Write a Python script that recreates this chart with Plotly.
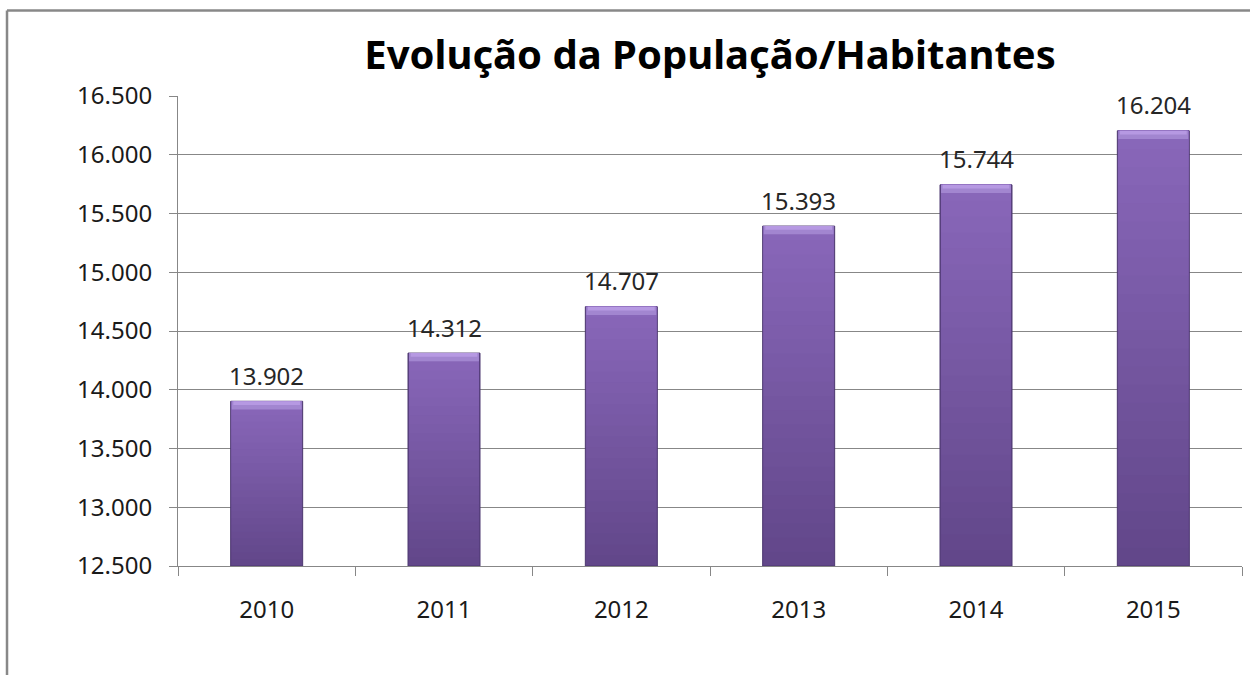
import plotly.graph_objects as go

# ---- data ----
years = ["2010", "2011", "2012", "2013", "2014", "2015"]
population = [13902, 14312, 14707, 15393, 15744, 16204]
y_ticks = [12500, 13000, 13500, 14000, 14500, 15000, 15500, 16000, 16500]
title_text = "Evolução da População/Habitantes"
axis_min, axis_max = 12500, 16500


def fmt(v):
    return f"{v:,}".replace(",", ".")


def lerp_color(c0, c1, t):
    a = [int(c0[i:i + 2], 16) for i in (1, 3, 5)]
    b = [int(c1[i:i + 2], 16) for i in (1, 3, 5)]
    return "rgb(%d,%d,%d)" % tuple(round(a[j] + (b[j] - a[j]) * t) for j in range(3))


FONT = "Noto Sans"
GRID = "#878787"
TICK_SIZE = 24
BAR_W = 0.406
DARK, LIGHT = "#62478a", "#8a68bb"
N_LAYERS = 24
BEVEL = 70  # height of the light top bevel, in axis units

fig = go.Figure()
# main bar (dark base, outline, hover)
fig.add_trace(go.Bar(
    x=years, y=[v - axis_min for v in population], base=axis_min,
    marker=dict(color=DARK, line=dict(color="#4d3870", width=1)),
    width=BAR_W, hovertext=[fmt(v) for v in population], hoverinfo="x+text",
))
# vertical gradient: lighter layers toward the top of each bar
for k in range(1, N_LAYERS):
    f = k / N_LAYERS
    bases = [axis_min + (v - axis_min) * f for v in population]
    heights = [(v - axis_min) * (1 - f) for v in population]
    fig.add_trace(go.Bar(
        x=years, y=heights, base=bases,
        marker=dict(color=lerp_color(DARK, LIGHT, f), line=dict(width=0)),
        width=BAR_W - 0.012, hoverinfo="skip",
    ))
# light bevel at the top
fig.add_trace(go.Bar(
    x=years, y=[BEVEL for _ in population],
    base=[v - BEVEL for v in population],
    marker=dict(color="#a286d0", line=dict(width=0)),
    width=BAR_W - 0.012, hoverinfo="skip",
))
fig.add_trace(go.Bar(
    x=years, y=[BEVEL * 0.45 for _ in population],
    base=[v - BEVEL * 0.45 for v in population],
    marker=dict(color="#b699e2", line=dict(width=0)),
    width=BAR_W - 0.03, hoverinfo="skip",
))

for i, v in enumerate(population):
    fig.add_annotation(
        x=i, y=v, text=fmt(v), showarrow=False,
        yanchor="middle", yshift=26,
        font=dict(family=FONT, size=TICK_SIZE, color="#262626"),
    )

fig.update_layout(
    width=1250, height=675,
    margin=dict(l=178, r=8, t=96, b=109),
    paper_bgcolor="white", plot_bgcolor="white",
    separators=",.",
    showlegend=False,
    barmode="overlay",
    title=dict(
        text=title_text, x=0.5, xref="paper", xanchor="center",
        y=1 - 55 / 675, yref="container", yanchor="middle",
        font=dict(family=FONT, size=40, color="#000000", weight="bold"),
    ),
)

fig.update_yaxes(
    range=[axis_min, axis_max], tickvals=y_ticks,
    ticktext=[fmt(t) for t in y_ticks],
    showgrid=True, gridcolor=GRID, gridwidth=1,
    showline=True, linecolor=GRID, linewidth=1,
    ticks="outside", ticklen=8, tickcolor=GRID,
    ticklabelstandoff=12,
    tickfont=dict(family=FONT, size=TICK_SIZE, color="#1a1a1a"),
    zeroline=False,
)
fig.update_xaxes(
    type="category",
    showline=True, linecolor=GRID, linewidth=1,
    ticks="outside", ticklen=9, tickcolor=GRID, tickson="boundaries",
    ticklabelstandoff=22, tickangle=0,
    tickfont=dict(family=FONT, size=TICK_SIZE, color="#1a1a1a"),
    showgrid=False,
)

# outer frame (left and top edges of the chart object)
fig.add_shape(type="line", xref="paper", yref="paper",
              x0=-0.1607, x1=-0.1607, y0=1.1819, y1=-0.3,
              line=dict(color="#888888", width=2.5))
fig.add_shape(type="line", xref="paper", yref="paper",
              x0=-0.1607, x1=1.05, y0=1.1819, y1=1.1819,
              line=dict(color="#888888", width=2.5))

fig.write_html("out.html", config={"displayModeBar": False},
               post_script="document.body.style.margin='0';")
